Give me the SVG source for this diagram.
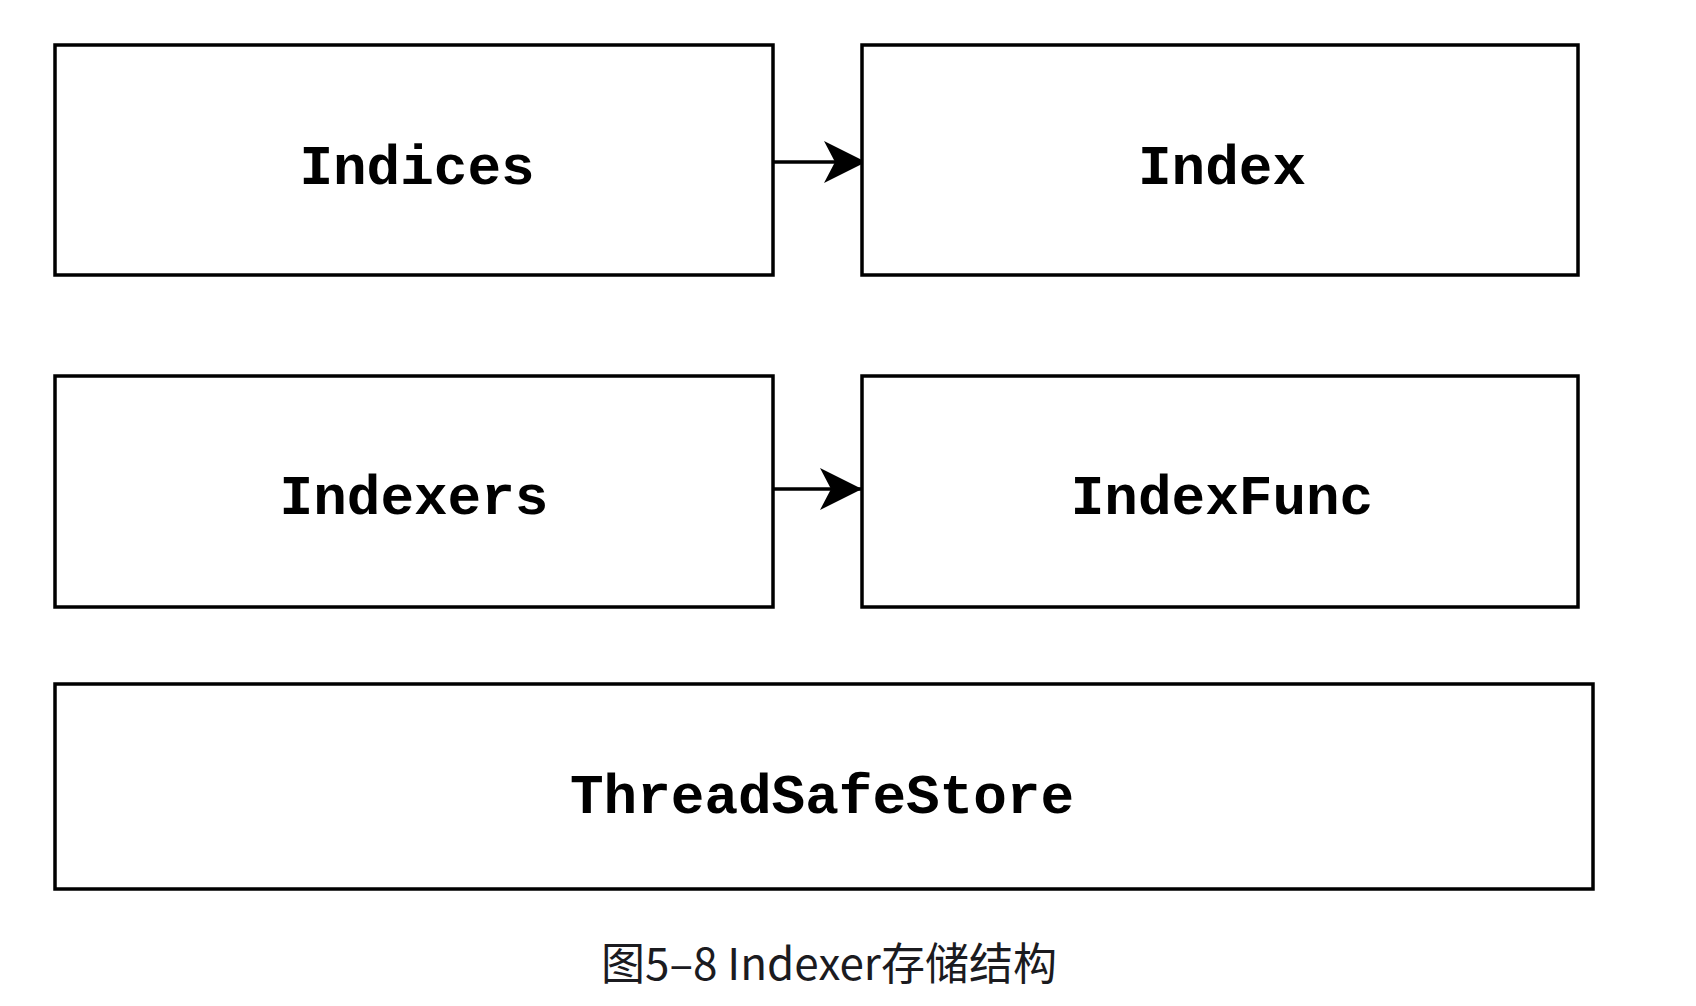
<svg xmlns="http://www.w3.org/2000/svg" width="1696" height="1006" viewBox="0 0 1696 1006">
<style>
.box{fill:#fff;stroke:#000;stroke-width:3.5}
.lbl{font-family:"Liberation Mono","Courier New",monospace;font-weight:bold;font-size:56px;fill:#000;text-anchor:middle}
.edge{stroke:#000;stroke-width:3.5;fill:none}
.cap{font-family:"Noto Sans CJK SC","Noto Sans",sans-serif;font-size:44px;fill:#1b1b1f;text-anchor:middle}
</style>
<defs>
<marker id="arr" markerUnits="userSpaceOnUse" viewBox="0 0 42 42" markerWidth="42" markerHeight="42" refX="42" refY="21" orient="auto">
<path d="M0,0 L42,21 L0,42 L11,21 Z" fill="#000"/>
</marker>
</defs>
<rect width="1696" height="1006" fill="#fff"/>
<g id="connectors">
<line class="edge" x1="773" y1="162" x2="866" y2="162" marker-end="url(#arr)"/>
<line class="edge" x1="773" y1="489" x2="862" y2="489" marker-end="url(#arr)"/>
</g>
<g id="indices">
<rect class="box" x="55" y="45" width="718" height="230"/>
<text class="lbl" x="417" y="184">Indices</text>
</g>
<g id="index">
<rect class="box" x="862" y="45" width="716" height="230"/>
<text class="lbl" x="1222" y="184">Index</text>
</g>
<g id="indexers">
<rect class="box" x="55" y="376" width="718" height="231"/>
<text class="lbl" x="414" y="514">Indexers</text>
</g>
<g id="indexfunc">
<rect class="box" x="862" y="376" width="716" height="231"/>
<text class="lbl" x="1222" y="514">IndexFunc</text>
</g>
<g id="threadsafestore">
<rect class="box" x="55" y="684" width="1538" height="205"/>
<text class="lbl" x="822" y="813">ThreadSafeStore</text>
</g>
<g id="caption">
<text class="cap" x="829" y="980">图5–8 Indexer存储结构</text>
</g>
</svg>
